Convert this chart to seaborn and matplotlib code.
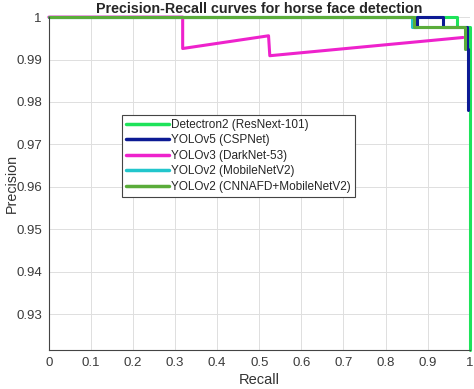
import seaborn as sns
import matplotlib.pyplot as plt
import pandas as pd
from matplotlib.ticker import FormatStrFormatter

sns.set_style("whitegrid")
plt.rcParams['font.family'] = ['Liberation Sans', 'DejaVu Sans']

models = ["Detectron2 (ResNext-101)", "YOLOv5 (CSPNet)", "YOLOv3 (DarkNet-53)",
          "YOLOv2 (MobileNetV2)", "YOLOv2 (CNNAFD+MobileNetV2)"]
colors = ["#1ee35a", "#0c1a94", "#ee22cc", "#22c6cc", "#5aac3a"]

detectron_recall = [0, 0.969, 0.969, 1.0, 1.0]
detectron_prec = [1, 1, 0.9976, 0.9976, 0.9215]

yolov5_recall = [0, 0.865, 0.865, 0.875, 0.875, 0.936, 0.936, 0.993, 0.993, 0.995, 0.995]
yolov5_prec = [1, 1, 0.9976, 0.9976, 1, 1, 0.9976, 0.9976, 0.9925, 0.9925, 0.978]

yolov3_recall = [0, 0.318, 0.318, 0.522, 0.525, 0.984]
yolov3_prec = [1, 1, 0.9926, 0.9956, 0.9909, 0.9952]

mobilenet_recall = [0, 0.862, 0.862, 0.97]
mobilenet_prec = [1, 1, 0.9976, 0.9976]

cnnafd_recall = [0, 0.868, 0.868, 0.988, 0.988]
cnnafd_prec = [1, 1, 0.9976, 0.9976, 0.9925]

curves = [(detectron_recall, detectron_prec), (yolov5_recall, yolov5_prec),
          (yolov3_recall, yolov3_prec), (mobilenet_recall, mobilenet_prec),
          (cnnafd_recall, cnnafd_prec)]

rows = []
for name, (r, p) in zip(models, curves):
    for i in range(len(r)):
        rows.append({"Recall": r[i], "Precision": p[i], "Model": name})
df = pd.DataFrame(rows)

fig = plt.figure(figsize=(4.74, 3.89), dpi=100)
ax = fig.add_axes([0.103, 0.100, 0.888, 0.856])
sns.lineplot(data=df, x="Recall", y="Precision", hue="Model", hue_order=models,
             palette=colors, sort=False, estimator=None, linewidth=2.2, ax=ax)
for line in ax.lines:
    line.set_clip_on(False)

ax.set_xlim(0, 1)
ax.set_ylim(0.9215, 1.0)
ax.set_xticks([i / 10 for i in range(11)])
ax.set_yticks([0.93, 0.94, 0.95, 0.96, 0.97, 0.98, 0.99, 1.0])
ax.xaxis.set_major_formatter(FormatStrFormatter('%g'))
ax.yaxis.set_major_formatter(lambda v, pos: f"{v:g}")
ax.tick_params(direction='in', length=3, labelsize=9.5, colors='#3a3a3a', pad=5)
ax.grid(color='#dedede', linewidth=0.7)
for s in ['top', 'right']:
    ax.spines[s].set_visible(False)
for s in ['left', 'bottom']:
    ax.spines[s].set_color('#444444')
    ax.spines[s].set_linewidth(0.8)

ax.set_title("Precision-Recall curves for horse face detection", fontsize=10.3,
             fontweight='bold', pad=3)
ax.set_xlabel("Recall", fontsize=10.5, color='#333333', labelpad=3)
ax.set_ylabel("Precision", fontsize=10.3, color='#333333')
ax.yaxis.set_label_coords(-0.072, 0.5)

leg = ax.legend(loc='upper left', bbox_to_anchor=(0.16, 0.725), fontsize=8.5,
                handlelength=3.6, handletextpad=0.2, labelspacing=0.3,
                borderpad=0.35, fancybox=False, framealpha=1, edgecolor='#444444')
leg.get_frame().set_linewidth(0.8)
for line in leg.get_lines():
    line.set_linewidth(2.5)

plt.savefig("out.png", dpi=100)
